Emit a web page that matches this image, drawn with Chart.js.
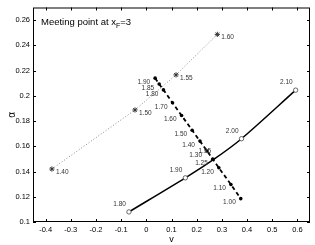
<!DOCTYPE html>
<html>
<head>
<meta charset="utf-8">
<script src="https://cdn.jsdelivr.net/npm/chart.js@4.4.0/dist/chart.umd.min.js"></script>
<style>
  html, body { margin: 0; padding: 0; background: #fff; }
</style>
</head>
<body>
<canvas id="chart" width="315" height="245"></canvas>
<script>
// dotted branch (asterisks)
const dottedV = [-0.375, -0.045, 0.118, 0.282]
const dottedA = [0.142, 0.1888, 0.2166, 0.2487]
const dottedLabels = ['1.40', '1.50', '1.55', '1.60']

// dashed branch (dots)
const dashedV = [0.035, 0.051, 0.068, 0.104, 0.140, 0.182, 0.213, 0.241, 0.264, 0.288, 0.336, 0.375]
const dashedA = [0.214, 0.2094, 0.2047, 0.1945, 0.1844, 0.1727, 0.1641, 0.1563, 0.1498, 0.1430, 0.1297, 0.1185]
const dashedLabels = ['1.90', '1.85', '1.80', '1.70', '1.60', '1.50', '1.40', '1.30', '1.25', '1.20', '1.10', '1.00']

// solid branch (circles)
const solidV = [-0.069, 0.155, 0.269, 0.378, 0.593]
const solidA = [0.108, 0.135, 0.1498, 0.166, 0.2045]
const solidLabels = ['1.80', '1.90', '1.95', '2.00', '2.10']

// axis ticks
const xTicks = [-0.4, -0.3, -0.2, -0.1, 0, 0.1, 0.2, 0.3, 0.4, 0.5, 0.6]
const yTicks = [0.1, 0.12, 0.14, 0.16, 0.18, 0.2, 0.22, 0.24, 0.26]

const FONT = '"Liberation Sans", Arial, sans-serif'

const toPoints = (xs, ys) => xs.map((x, i) => ({ x, y: ys[i] }))

const pointLabels = {
    id: 'pointLabels',
    afterDatasetsDraw(chart) {
        const ctx = chart.ctx
        chart.data.datasets.forEach((ds, i) => {
            const meta = chart.getDatasetMeta(i)
            ctx.save()
            ctx.font = '6.5px ' + FONT
            ctx.fillStyle = '#333'
            ctx.textAlign = ds.labelAlign
            ctx.textBaseline = 'middle'
            meta.data.forEach((pt, j) => {
                ctx.fillText(ds.labels[j], pt.x + ds.labelDx, pt.y + ds.labelDy)
            })
            ctx.restore()
        })
    }
}

const boxTicks = {
    id: 'boxTicks',
    afterDraw(chart) {
        const { ctx, chartArea: a, scales } = chart
        ctx.save()
        ctx.strokeStyle = '#000'
        ctx.lineWidth = 1
        ctx.strokeRect(a.left + 0.5, a.top + 0.5, a.right - a.left - 1, a.bottom - a.top - 1)
        ctx.beginPath()
        xTicks.forEach(v => {
            const x = Math.round(scales.x.getPixelForValue(v)) + 0.5
            ctx.moveTo(x, a.bottom); ctx.lineTo(x, a.bottom - 3)
            ctx.moveTo(x, a.top); ctx.lineTo(x, a.top + 3)
        })
        yTicks.forEach(v => {
            const y = Math.round(scales.y.getPixelForValue(v)) + 0.5
            ctx.moveTo(a.left, y); ctx.lineTo(a.left + 3, y)
            ctx.moveTo(a.right, y); ctx.lineTo(a.right - 3, y)
        })
        ctx.stroke()

        // annotation in the upper left corner
        ctx.fillStyle = '#000'
        ctx.textBaseline = 'alphabetic'
        ctx.font = '9.5px ' + FONT
        const x0 = a.left + 8
        const y0 = a.top + 17
        const t1 = 'Meeting point at x'
        ctx.fillText(t1, x0, y0)
        let x1 = x0 + ctx.measureText(t1).width
        ctx.font = '7px ' + FONT
        ctx.fillText('F', x1, y0 + 3)
        x1 += ctx.measureText('F').width
        ctx.font = '9.5px ' + FONT
        ctx.fillText('=3', x1, y0)
        ctx.restore()
    }
}

const data = {
    datasets: [
        {
            data: toPoints(dottedV, dottedA),
            labels: dottedLabels,
            labelAlign: 'left', labelDx: 4, labelDy: 3,
            showLine: true,
            borderColor: '#888',
            borderWidth: 1,
            borderDash: [1, 2],
            pointStyle: 'star',
            pointRadius: 2.6,
            pointBorderColor: '#333',
            pointBorderWidth: 1
        },
        {
            data: toPoints(dashedV, dashedA),
            labels: dashedLabels,
            labelAlign: 'right', labelDx: -5, labelDy: 4,
            showLine: true,
            borderColor: '#000',
            borderWidth: 1.8,
            borderDash: [4, 3],
            pointStyle: 'circle',
            pointRadius: 1.8,
            pointBackgroundColor: '#000',
            pointBorderColor: '#000',
            pointBorderWidth: 0
        },
        {
            data: toPoints(solidV, solidA),
            labels: solidLabels,
            labelAlign: 'right', labelDx: -3, labelDy: -8,
            showLine: true,
            tension: 0.3,
            borderColor: '#000',
            borderWidth: 1.5,
            pointStyle: 'circle',
            pointRadius: [2.2, 2.2, 0, 2.2, 2.2],
            pointBackgroundColor: '#fff',
            pointBorderColor: '#444',
            pointBorderWidth: 0.8
        }
    ]
}

const options = {
    responsive: false,
    animation: false,
    layout: { padding: { top: 3, right: 2, left: 0, bottom: 0 } },
    plugins: {
        legend: { display: false },
        tooltip: { enabled: false }
    },
    scales: {
        x: {
            type: 'linear',
            min: -0.45,
            max: 0.65,
            afterBuildTicks: s => { s.ticks = xTicks.map(value => ({ value })) },
            afterFit: s => { s.height = 23 },
            grid: { display: false, drawTicks: false },
            border: { display: false },
            ticks: {
                maxRotation: 0,
                autoSkip: false,
                padding: 3,
                color: '#000',
                font: { family: FONT, size: 7.5 },
                callback: v => Math.abs(v) < 1e-9 ? '0' : String(+v.toFixed(1))
            },
            title: {
                display: true,
                text: 'v',
                color: '#000',
                padding: { top: 0, bottom: 0 },
                font: { family: FONT, size: 9 }
            }
        },
        y: {
            type: 'linear',
            min: 0.1,
            max: 0.27,
            afterBuildTicks: s => { s.ticks = yTicks.map(value => ({ value })) },
            afterFit: s => { s.width = 33 },
            grid: { display: false, drawTicks: false },
            border: { display: false },
            ticks: {
                autoSkip: false,
                padding: 3,
                color: '#000',
                font: { family: FONT, size: 7.5 },
                callback: v => String(+v.toFixed(2))
            },
            title: {
                display: true,
                text: 'α',
                color: '#000',
                padding: { top: 6, bottom: 0 },
                font: { family: FONT, size: 10 }
            }
        }
    }
}

new Chart('chart', { type: 'scatter', data, options, plugins: [pointLabels, boxTicks] })
</script>
</body>
</html>
